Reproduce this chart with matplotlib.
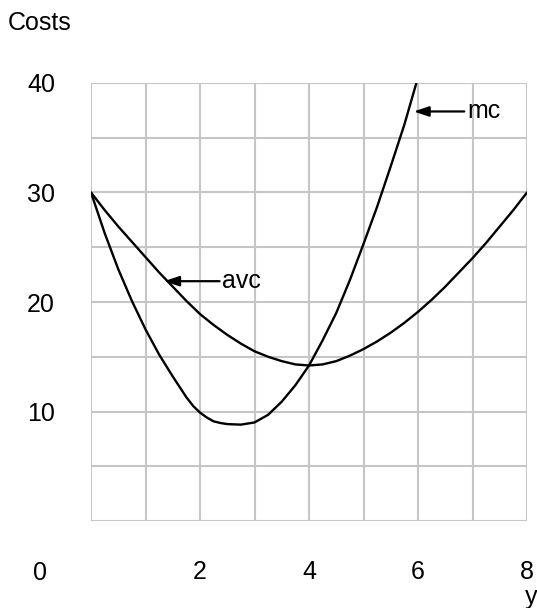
import matplotlib.pyplot as plt

plt.rcParams['font.family'] = ['Liberation Sans', 'DejaVu Sans']

# values
y_avc = [0, 0.25, 0.5, 0.75, 1, 1.25, 1.5, 1.75, 2, 2.25, 2.5, 2.75, 3, 3.25, 3.5, 3.75,
         4, 4.25, 4.5, 4.75, 5, 5.25, 5.5, 5.75, 6, 6.25, 6.5, 6.75, 7, 7.25, 7.5, 7.75, 8]
avc = [30, 28.4, 26.9, 25.5, 24.1, 22.7, 21.4, 20.1, 18.9, 17.9, 17.0, 16.2, 15.5, 15.0,
       14.6, 14.3, 14.2, 14.3, 14.6, 15.1, 15.7, 16.4, 17.2, 18.1, 19.1, 20.2, 21.4, 22.7,
       24.0, 25.4, 26.9, 28.4, 30.0]

y_mc = [0, 0.25, 0.5, 0.75, 1, 1.25, 1.5, 1.75, 1.875, 2, 2.125, 2.25, 2.375, 2.5, 2.75,
        3, 3.25, 3.5, 3.75, 4, 4.25, 4.5, 4.75, 5, 5.25, 5.5, 5.75, 5.97]
mc = [30, 26.3, 23.0, 20.1, 17.5, 15.2, 13.2, 11.3, 10.5, 9.9, 9.45, 9.1, 8.95, 8.85, 8.8,
      9.0, 9.7, 10.9, 12.4, 14.2, 16.5, 19.0, 22.0, 25.3, 28.7, 32.4, 36.2, 40]

xticks = [2, 4, 6, 8]
yticks = [10, 20, 30, 40]

fig = plt.figure(figsize=(5.37, 6.08), dpi=100)
ax = fig.add_axes([91 / 537, 87 / 608, 436 / 537, 438 / 608])

ax.plot(y_avc, avc, color='black', lw=1.7, solid_capstyle='round', solid_joinstyle='round')
ax.plot(y_mc, mc, color='black', lw=1.7, solid_capstyle='round', solid_joinstyle='round')

ax.set_xlim(0, 8)
ax.set_ylim(0, 40)
ax.set_xticks(range(0, 9), minor=True)
ax.set_yticks(range(0, 41, 5), minor=True)
ax.set_xticks(xticks)
ax.set_yticks(yticks)
ax.grid(True, which='both', color='#c6c6c6', lw=1.5)
ax.set_axisbelow(True)
for s in ax.spines.values():
    s.set_visible(False)
ax.tick_params(which='both', length=0)
ax.tick_params(axis='x', pad=28, labelsize=18)
ax.tick_params(axis='y', pad=26, labelsize=18)

# arrows with labels
arrow = dict(arrowstyle='-|>,head_length=0.9,head_width=0.3', color='black', lw=1.6,
             shrinkA=0, shrinkB=0)
ax.annotate('', xy=(5.92, 37.4), xytext=(6.85, 37.4), arrowprops=arrow)
ax.text(6.9, 37.4, 'mc', fontsize=18, va='center', ha='left')
ax.annotate('', xy=(1.34, 21.9), xytext=(2.36, 21.9), arrowprops=arrow)
ax.text(2.41, 21.9, 'avc', fontsize=18, va='center', ha='left')

fig.text(8 / 537, 1 - 23 / 608, 'Costs', fontsize=18, va='center', ha='left')
fig.text(40 / 537, 1 - 573 / 608, '0', fontsize=18, va='center', ha='center')
fig.text(531 / 537, 1 - 604 / 608, 'y', fontsize=18, va='baseline', ha='center')

fig.savefig('out.png', dpi=100)
